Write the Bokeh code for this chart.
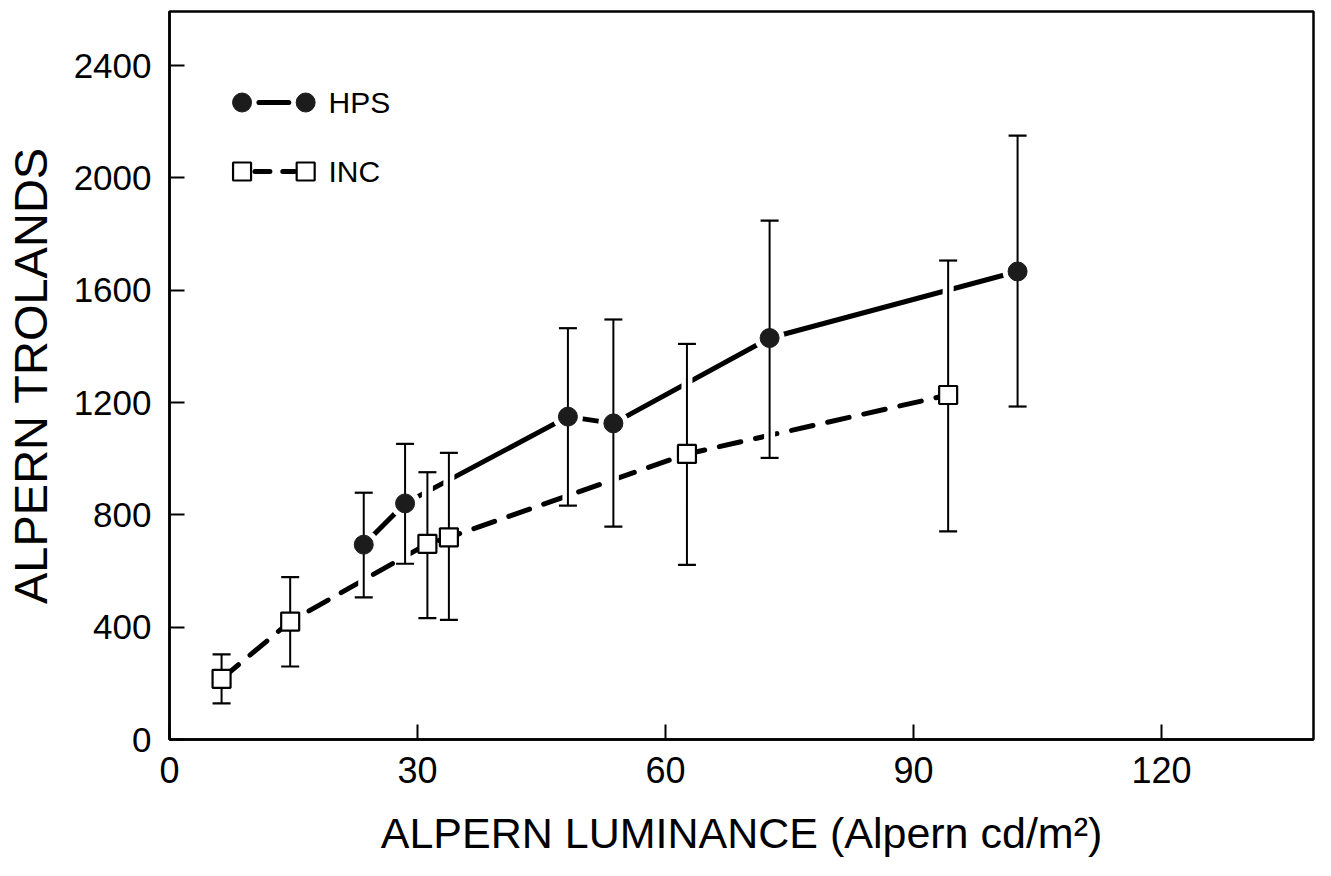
from bokeh.plotting import figure
from bokeh.models import Range1d, FixedTicker
from bokeh.core.properties import value
from bokeh.embed import file_html
from bokeh.resources import INLINE

# ---- data ----
hps_x = [23.5, 28.5, 48.2, 53.7, 72.6, 102.6]
hps_y = [694, 841, 1150, 1126, 1430, 1667]
hps_lo = [506, 626, 833, 758, 1003, 1186]
hps_hi = [879, 1053, 1465, 1496, 1848, 2151]

inc_x = [6.3, 14.6, 31.2, 33.8, 62.6, 94.2]
inc_y = [216, 420, 697, 720, 1017, 1227]
inc_lo = [129, 260, 432, 426, 622, 741]
inc_hi = [303, 578, 952, 1021, 1409, 1706]

x_ticks = [0, 30, 60, 90, 120]
y_ticks = [0, 400, 800, 1200, 1600, 2000, 2400]
series_names = ["HPS", "INC"]

# ---- layout ----
W, H = 1315, 860
BL, BR, BT, BB = 162, 2, 11, 121
X0, X1 = 0, 138.4
Y0, Y1 = 0, 2593
FW, FH = W - BL - BR, H - BT - BB
FONT = "Liberation Sans"

p = figure(width=W, height=H, x_range=Range1d(X0, X1), y_range=Range1d(Y0, Y1),
           min_border_left=BL, min_border_right=BR, min_border_top=BT, min_border_bottom=BB,
           output_backend="svg", toolbar_location=None)
p.grid.visible = False
p.background_fill_color = "white"
p.border_fill_color = "white"
p.outline_line_color = "black"
p.outline_line_width = 2.5
p.outline_line_alpha = 1

p.xaxis.ticker = FixedTicker(ticks=x_ticks)
p.yaxis.ticker = FixedTicker(ticks=y_ticks)
for ax in (p.xaxis, p.yaxis):
    ax.axis_line_width = 2.5
    ax.axis_line_color = "black"
    ax.major_tick_line_width = 2
    ax.major_tick_line_color = "black"
    ax.major_tick_in = 15
    ax.major_tick_out = 0
    ax.minor_tick_line_color = None
    ax.major_label_text_font = FONT
    ax.major_label_text_color = "black"
    ax.axis_label_text_font = FONT
    ax.axis_label_text_font_style = "normal"
    ax.axis_label_text_color = "black"

p.xaxis.major_label_text_font_size = "36px"
p.xaxis.major_label_standoff = 17
p.xaxis.axis_label = "ALPERN LUMINANCE (Alpern cd/m\u00b2)"
p.xaxis.axis_label_text_font_size = "43px"
p.xaxis.axis_label_standoff = 23

p.yaxis.major_label_text_font_size = "35px"
p.yaxis.major_label_standoff = 18
p.yaxis.axis_label = "ALPERN TROLANDS"
p.yaxis.axis_label_text_font_size = "47px"
p.yaxis.axis_label_standoff = 14

# ---- connecting lines ----
p.line(hps_x, hps_y, line_color="black", line_width=5, line_cap="round")
p.line(inc_x, inc_y, line_color="black", line_width=5, line_cap="round", line_dash="22 15")

# white halos where error bars cross the lines
all_x = hps_x + inc_x
all_lo = hps_lo + inc_lo
all_hi = hps_hi + inc_hi
p.segment(x0=all_x, y0=all_lo, x1=all_x, y1=all_hi, line_color="white", line_width=11)
p.scatter(hps_x, hps_y, marker="circle", size=30, fill_color="white", line_color=None)

# error bars
p.segment(x0=all_x, y0=all_lo, x1=all_x, y1=all_hi, line_color="black", line_width=2)
p.scatter(all_x, all_lo, marker="dash", size=18, line_color="black", line_width=2.2)
p.scatter(all_x, all_hi, marker="dash", size=18, line_color="black", line_width=2.2)

# markers
p.scatter(hps_x, hps_y, marker="circle", size=19, fill_color="#1c1c1c", line_color="#1c1c1c", line_width=1)
p.scatter(inc_x, inc_y, marker="square", size=18, fill_color="white", line_color="black", line_width=2.2)

# ---- legend (placed in figure pixels, converted to data units) ----
def dx(px):
    return X0 + (px - BL) * (X1 - X0) / FW

def dy(py):
    return Y1 - (py - BT) * (Y1 - Y0) / FH

row_hps, row_inc = 102, 171
m_left, m_right = 235, 299
p.segment(x0=[dx(252)], y0=[dy(row_hps)], x1=[dx(282)], y1=[dy(row_hps)],
          line_color="black", line_width=5, line_cap="round")
p.scatter([dx(m_left), dx(m_right)], [dy(row_hps)] * 2, marker="circle", size=19,
          fill_color="#1c1c1c", line_color="#1c1c1c")
p.segment(x0=[dx(248), dx(276)], y0=[dy(row_inc)] * 2, x1=[dx(263), dx(288)], y1=[dy(row_inc)] * 2,
          line_color="black", line_width=5, line_cap="round")
p.scatter([dx(m_left), dx(m_right)], [dy(row_inc)] * 2, marker="square", size=18,
          fill_color="white", line_color="black", line_width=2.2)
p.text([dx(322)] * 2, [dy(row_hps), dy(row_inc)], text=series_names,
       text_font=value(FONT), text_font_size="30px", text_color="black",
       text_baseline="middle", text_align="left")

open("out.html", "w").write(file_html(p, INLINE))
